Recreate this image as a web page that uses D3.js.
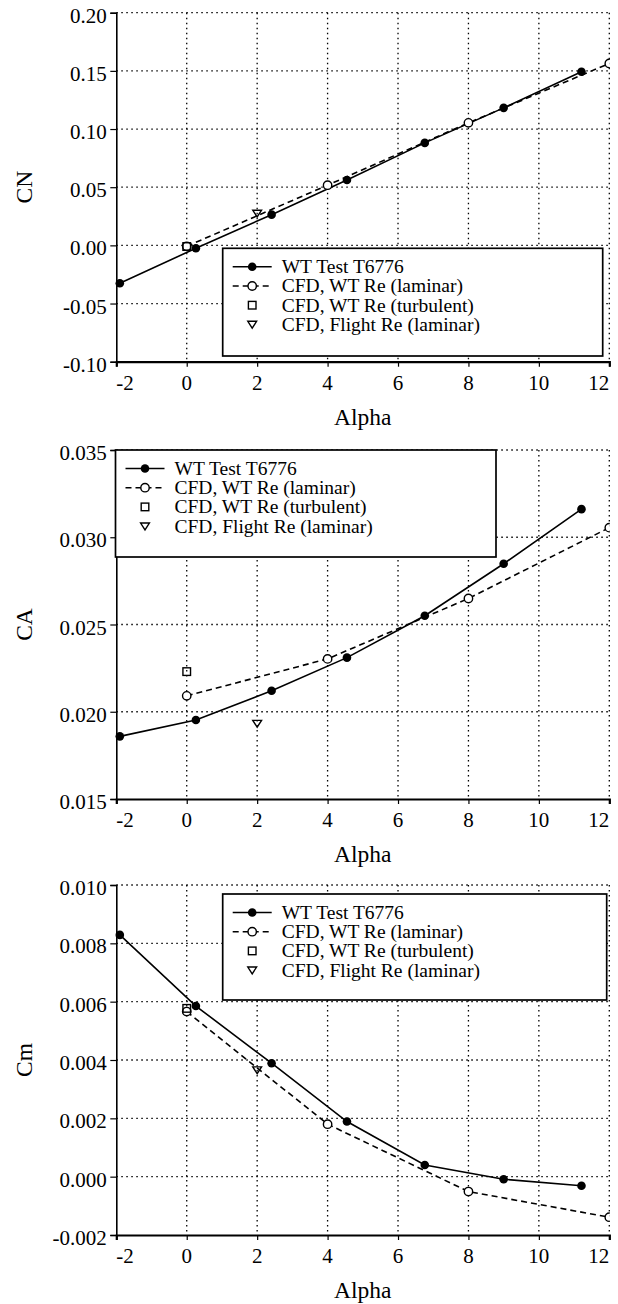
<!DOCTYPE html>
<html>
<head>
<meta charset="utf-8">
<script src="https://cdn.jsdelivr.net/npm/d3@7/dist/d3.min.js"></script>
<style>
  html, body { margin: 0; padding: 0; background: #fff; }
  svg { display: block; }
  svg text { font-family: 'Liberation Serif', 'Times New Roman', Times, 'DejaVu Serif', serif; fill: #000; }
</style>
</head>
<body>
<svg id="chart" width="618" height="1304"></svg>
<script>
// ---------------- data ----------------
const xTicks = [-2, 0, 2, 4, 6, 8, 10, 12];
const legendLabels = ["WT Test T6776", "CFD, WT Re (laminar)", "CFD, WT Re (turbulent)", "CFD, Flight Re (laminar)"];

const alphaWT = [-1.9, 0.26, 2.41, 4.55, 6.76, 9.0, 11.21];
const alphaCFD = [0, 4, 8, 12];
const alphaTurb = [0];
const alphaFlight = [2];

const cnTicks = [-0.10, -0.05, 0.00, 0.05, 0.10, 0.15, 0.20];
const cnWT = [-0.0325, -0.0025, 0.0264, 0.0562, 0.0881, 0.1182, 0.1492];
const cnCFD = [-0.0008, 0.0517, 0.1053, 0.1564];
const cnTurb = [-0.001];
const cnFlight = [0.0276];

const caTicks = [0.015, 0.020, 0.025, 0.030, 0.035];
const caWT = [0.01859, 0.01953, 0.0212, 0.0231, 0.0255, 0.02848, 0.03161];
const caCFD = [0.02091, 0.02303, 0.02649, 0.03055];
const caTurb = [0.0223];
const caFlight = [0.01933];

const cmTicks = [-0.002, 0.000, 0.002, 0.004, 0.006, 0.008, 0.010];
const cmWT = [0.00829, 0.00585, 0.00389, 0.00189, 0.0004, -0.00009, -0.00031];
const cmCFD = [0.00566, 0.0018, -0.00051, -0.00139];
const cmTurb = [0.00577];
const cmFlight = [0.00366];

// ---------------- layout ----------------
const FONT = "'Liberation Serif', 'Times New Roman', Times, 'DejaVu Serif', serif";
const svg = d3.select("#chart").attr("font-family", FONT);
const plotLeft = 116.3, plotRight = 609.3;
const x = d3.scaleLinear().domain([-2, 12]).range([plotLeft, plotRight]);

const panels = [
  { top: 12.7, bottom: 361.7, domain: [-0.10, 0.20], ticks: cnTicks, fmt: d3.format(".2f"), title: "CN",
    wt: cnWT, cfd: cnCFD, turb: cnTurb, flight: cnFlight,
    legend: { x: 222.7, y: 248.3, w: 380, h: 107.7 } },
  { top: 450, bottom: 799, domain: [0.015, 0.035], ticks: caTicks, fmt: d3.format(".3f"), title: "CA",
    wt: caWT, cfd: caCFD, turb: caTurb, flight: caFlight,
    legend: { x: 115.5, y: 450, w: 380.5, h: 107 } },
  { top: 885, bottom: 1235, domain: [-0.002, 0.010], ticks: cmTicks, fmt: d3.format(".3f"), title: "Cm",
    wt: cmWT, cfd: cmCFD, turb: cmTurb, flight: cmFlight,
    legend: { x: 222.7, y: 894, w: 384, h: 106 } }
];

const gridStyle = g => g.attr("stroke", "#000").attr("stroke-width", 1.3).attr("stroke-dasharray", "1.5,3.5");
const triPath = s => `M${-s},${-s * 0.7}L${s},${-s * 0.7}L0,${s * 0.85}Z`;

function fmtTick(f, v) {
  let s = f(v);
  if (Math.abs(v) < 1e-12) s = f(0);
  return s.replace("\u2212", "-");
}
function txt(sel) { return sel.attr("font-family", FONT).style("font-family", FONT); }

panels.forEach((p, pi) => {
  const y = d3.scaleLinear().domain(p.domain).range([p.bottom, p.top]);
  const g = svg.append("g");

  // grid
  const grid = g.append("g");
  grid.selectAll("line.h").data(p.ticks.slice(1)).join("line")
    .attr("x1", plotLeft).attr("x2", plotRight)
    .attr("y1", d => y(d)).attr("y2", d => y(d)).call(gridStyle);
  grid.selectAll("line.v").data(xTicks.slice(1)).join("line")
    .attr("x1", d => x(d)).attr("x2", d => x(d))
    .attr("y1", p.top).attr("y2", p.bottom).call(gridStyle);

  // axes
  const yAxis = d3.axisLeft(y).tickValues(p.ticks).tickSize(6).tickFormat("");
  const ya = g.append("g").attr("transform", `translate(${plotLeft},0)`).call(yAxis);
  ya.select(".domain").attr("stroke", "#000").attr("stroke-width", 1.6);
  ya.selectAll(".tick line").attr("stroke", "#000").attr("stroke-width", 1.2);

  const xAxis = d3.axisBottom(x).tickValues(xTicks).tickSize(5).tickFormat("");
  const xa = g.append("g").attr("transform", `translate(0,${p.bottom})`).call(xAxis);
  xa.select(".domain").attr("stroke", "#000").attr("stroke-width", 2.2);
  xa.selectAll(".tick line").attr("stroke", "#000").attr("stroke-width", 1.2);

  // tick labels
  g.selectAll("text.yt").data(p.ticks).join("text")
    .attr("x", plotLeft - 9.5).attr("y", d => y(d) + 10)
    .attr("text-anchor", "end").attr("font-size", 21).call(txt)
    .text(d => fmtTick(p.fmt, d));
  g.selectAll("text.xt").data(xTicks).join("text")
    .attr("x", d => x(d)).attr("y", p.bottom + 28)
    .attr("text-anchor", (d, i) => i === 0 ? "start" : (i === xTicks.length - 1 ? "end" : "middle"))
    .attr("font-size", 21).call(txt)
    .text(d => String(d));

  // titles
  g.append("text").attr("x", (plotLeft + plotRight) / 2).attr("y", p.bottom + 63)
    .attr("text-anchor", "middle").attr("font-size", 23.5).call(txt).text("Alpha");
  g.append("text").attr("transform", `translate(24,${(p.top + p.bottom) / 2}) rotate(-90)`)
    .attr("text-anchor", "middle").attr("dy", "0.35em").attr("font-size", 23.5).call(txt).text(p.title);

  // data (clipped at right edge)
  const cid = "clip" + pi;
  svg.append("clipPath").attr("id", cid).append("rect")
    .attr("x", 0).attr("y", p.top - 10).attr("width", plotRight + 0.5).attr("height", p.bottom - p.top + 20);
  const d = g.append("g").attr("clip-path", `url(#${cid})`);

  const wtData = alphaWT.map((a, i) => [a, p.wt[i]]);
  const cfdData = alphaCFD.map((a, i) => [a, p.cfd[i]]);
  const line = d3.line().x(v => x(v[0])).y(v => y(v[1]));

  d.append("path").attr("d", line(cfdData)).attr("fill", "none").attr("stroke", "#000")
    .attr("stroke-width", 1.6).attr("stroke-dasharray", "6,4");
  d.append("path").attr("d", line(wtData)).attr("fill", "none").attr("stroke", "#000")
    .attr("stroke-width", 1.6);

  d.selectAll("circle.wt").data(wtData).join("circle")
    .attr("cx", v => x(v[0])).attr("cy", v => y(v[1])).attr("r", 4.3).attr("fill", "#000");
  d.selectAll("circle.cfd").data(cfdData).join("circle")
    .attr("cx", v => x(v[0])).attr("cy", v => y(v[1])).attr("r", 4.2)
    .attr("fill", "#fff").attr("stroke", "#000").attr("stroke-width", 1.4);
  d.selectAll("rect.turb").data(alphaTurb.map((a, i) => [a, p.turb[i]])).join("rect")
    .attr("x", v => x(v[0]) - 3.8).attr("y", v => y(v[1]) - 3.8).attr("width", 7.6).attr("height", 7.6)
    .attr("fill", "none").attr("stroke", "#000").attr("stroke-width", 1.4);
  d.selectAll("path.fl").data(alphaFlight.map((a, i) => [a, p.flight[i]])).join("path")
    .attr("transform", v => `translate(${x(v[0])},${y(v[1])})`).attr("d", triPath(4.4))
    .attr("fill", "none").attr("stroke", "#000").attr("stroke-width", 1.4);

  // legend
  const L = p.legend;
  const lg = g.append("g").attr("transform", `translate(${L.x},${L.y})`);
  lg.append("rect").attr("width", L.w).attr("height", L.h).attr("fill", "#fff")
    .attr("stroke", "#000").attr("stroke-width", 1.7);
  legendLabels.forEach((lab, i) => {
    const cy = 18.5 + i * 19.2;
    const mx = 29.5;
    if (i === 0) {
      lg.append("line").attr("x1", 10).attr("x2", 49).attr("y1", cy).attr("y2", cy)
        .attr("stroke", "#000").attr("stroke-width", 1.6);
      lg.append("circle").attr("cx", mx).attr("cy", cy).attr("r", 4.3).attr("fill", "#000");
    } else if (i === 1) {
      lg.append("line").attr("x1", 10).attr("x2", 49).attr("y1", cy).attr("y2", cy)
        .attr("stroke", "#000").attr("stroke-width", 1.6).attr("stroke-dasharray", "6,4");
      lg.append("circle").attr("cx", mx).attr("cy", cy).attr("r", 4.2)
        .attr("fill", "#fff").attr("stroke", "#000").attr("stroke-width", 1.4);
    } else if (i === 2) {
      lg.append("rect").attr("x", mx - 3.8).attr("y", cy - 3.8).attr("width", 7.6).attr("height", 7.6)
        .attr("fill", "none").attr("stroke", "#000").attr("stroke-width", 1.4);
    } else {
      lg.append("path").attr("transform", `translate(${mx},${cy})`).attr("d", triPath(4.4))
        .attr("fill", "none").attr("stroke", "#000").attr("stroke-width", 1.4);
    }
    lg.append("text").attr("x", 59).attr("y", cy + 6.5).attr("font-size", 19.5).call(txt).text(lab);
  });
});
</script>
</body>
</html>
